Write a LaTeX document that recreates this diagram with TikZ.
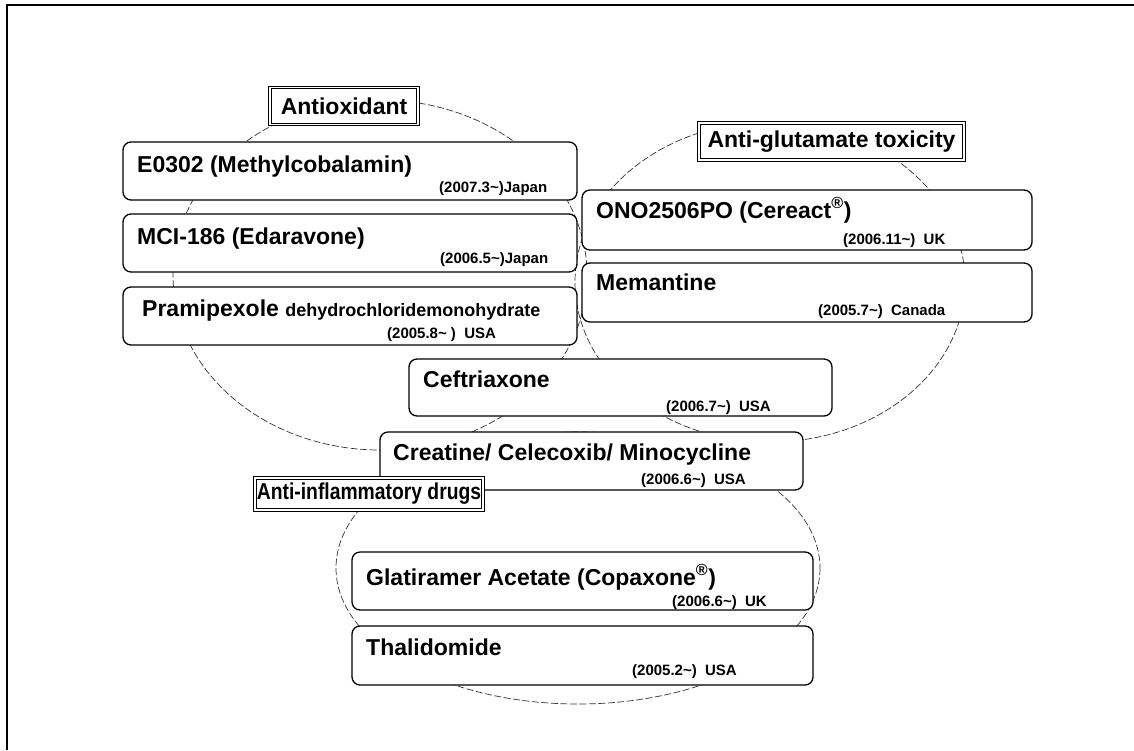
\documentclass[tikz,border=0pt]{standalone}
\usepackage{fontspec}
\setmainfont{Liberation Sans}
\usepackage{tikz}

\newcommand{\bigtxt}{\fontsize{23}{27}\selectfont\bfseries}
\newcommand{\midtxt}{\fontsize{18}{21}\selectfont\bfseries}
\newcommand{\smalltxt}{\fontsize{15}{18}\selectfont\bfseries}
\newcommand{\sincemark}{\textasciitilde}

\begin{document}
\begin{tikzpicture}[x=1pt,y=-1pt,
	ring/.style={black!80,line width=0.7pt,dash pattern=on 7pt off 2.5pt},
	drugbox/.style={draw,fill=white,line width=1.3pt,rounded corners=8pt,inner sep=0pt},
	groupbox/.style={draw,double,double distance=1.2pt,line width=1.3pt,inner sep=0pt,font=\bigtxt},
	drug/.style={anchor=base west,inner sep=0pt,font=\bigtxt},
	since/.style={anchor=base west,inner sep=0pt,font=\smalltxt}]
	\useasboundingbox (0,0) rectangle (1134,750);

	% -- Frame
	\draw[line width=1.5pt] (1134,5) -- (7,5) -- (7,750);

	% -- Group rings
	\draw[ring] (380,275) ellipse [x radius=207, y radius=175];
	\draw[ring] (770,282) ellipse [x radius=195, y radius=160];
	\draw[ring] (578,568) ellipse [x radius=242, y radius=136];

	% -- Antioxidant
	\node[drugbox,minimum width=454pt,minimum height=58pt] (e0302) at (350,171) {};
	\node[drug] (e0302name) at (137,172) {E0302 (Methylcobalamin)};
	\node[since] (e0302date) at (439,192) {(2007.3\sincemark)Japan};
	\node[drugbox,minimum width=454pt,minimum height=58pt] (mci) at (350,243) {};
	\node[drug] (mciname) at (137,244) {MCI-186 (Edaravone)};
	\node[since] (mcidate) at (440,263) {(2006.5\sincemark)Japan};
	\node[drugbox,minimum width=454pt,minimum height=58pt] (prami) at (350,316) {};
	\node[drug] (praminame) at (142,316) {Pramipexole {\midtxt dehydrochloridemonohydrate}};
	\node[since] (pramidate) at (387,338) {(2005.8\sincemark\ )\ \ USA};

	% -- Anti-glutamate toxicity
	\node[drugbox,minimum width=450pt,minimum height=60pt] (ono) at (807,220) {};
	\node[drug] (ononame) at (596,218) {ONO2506PO (Cereact\textsuperscript{®})};
	\node[since] (onodate) at (843,244) {(2006.11\sincemark)\ \ UK};
	\node[drugbox,minimum width=450pt,minimum height=59pt] (mem) at (807,292.5) {};
	\node[drug] (memname) at (596,290) {Memantine};
	\node[since] (memdate) at (818,315) {(2005.7\sincemark)\ \ Canada};

	% -- Shared
	\node[drugbox,minimum width=423pt,minimum height=57pt] (cef) at (620.5,387.5) {};
	\node[drug] (cefname) at (423,387) {Ceftriaxone};
	\node[since] (cefdate) at (666,411) {(2006.7\sincemark)\ \ USA};
	\node[drugbox,minimum width=423pt,minimum height=58pt] (cre) at (591.5,461) {};
	\node[drug] (crename) at (393,460) {Creatine/ Celecoxib/ Minocycline};
	\node[since] (credate) at (641,484) {(2006.6\sincemark)\ \ USA};

	% -- Anti-inflammatory drugs
	\node[drugbox,minimum width=461pt,minimum height=58pt] (gla) at (582.5,581) {};
	\node[drug] (glaname) at (366,585) {Glatiramer Acetate (Copaxone\textsuperscript{®})};
	\node[since] (gladate) at (672,606) {(2006.6\sincemark)\ \ UK};
	\node[drugbox,minimum width=461pt,minimum height=59pt] (tha) at (582.5,655.5) {};
	\node[drug] (thaname) at (366,655) {Thalidomide};
	\node[since] (thadate) at (632,675) {(2005.2\sincemark)\ \ USA};

	% -- Group titles
	\node[groupbox,fill=white,minimum width=148pt,minimum height=37pt] (antiox) at (344,106) {Antioxidant};
	\node[groupbox,fill=white,minimum width=265pt,minimum height=37pt] (antiglu) at (831.5,141.5) {Anti-glutamate toxicity};
	\node[groupbox,fill=white,minimum width=228pt,minimum height=32pt] (antiinf) at (369,494)
		{\scalebox{0.84}[1]{Anti-inflammatory drugs}};
\end{tikzpicture}
\end{document}
